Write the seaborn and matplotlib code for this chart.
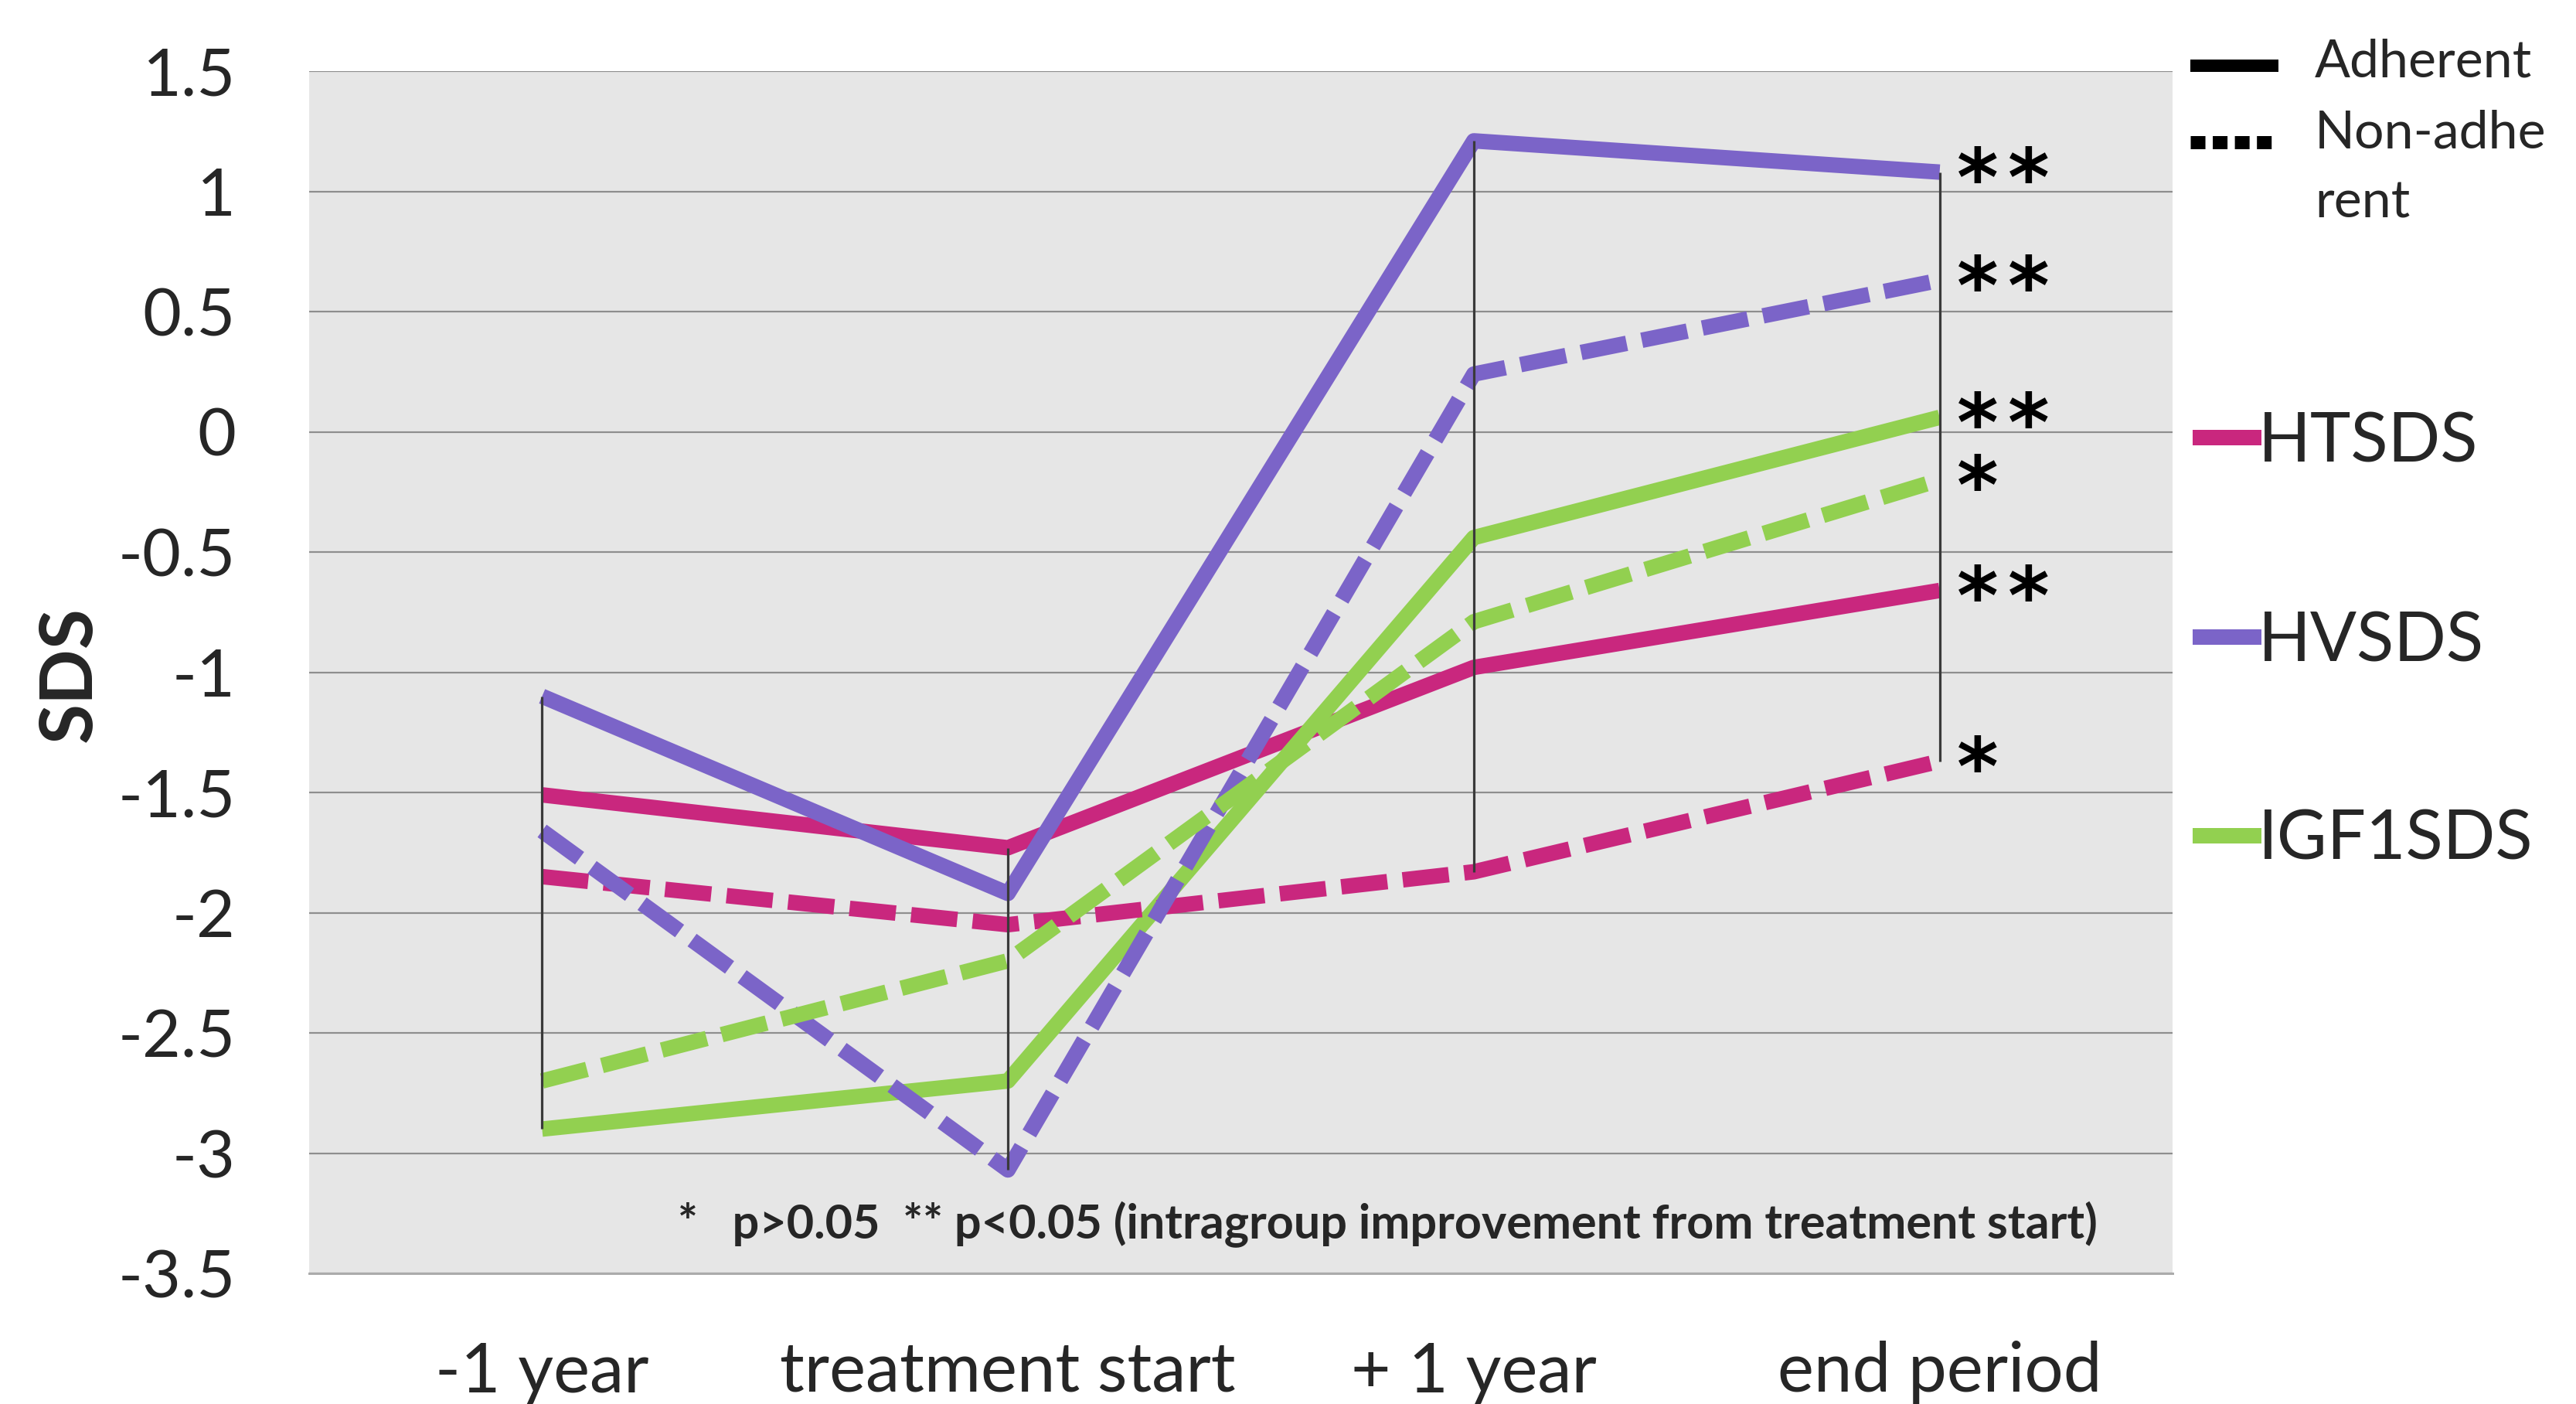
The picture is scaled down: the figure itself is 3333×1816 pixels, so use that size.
import numpy as np
import pandas as pd
import matplotlib
matplotlib.use("Agg")
import matplotlib.pyplot as plt
from matplotlib.lines import Line2D
import seaborn as sns

# ---- data -------------------------------------------------------------
timepoints = ["-1 year", "treatment start", "+ 1 year", "end period"]
measures = ["HTSDS", "HVSDS", "IGF1SDS"]

ht_adherent = [-1.51, -1.73, -0.98, -0.66]
ht_nonadherent = [-1.85, -2.05, -1.83, -1.37]
hv_adherent = [-1.10, -1.92, 1.21, 1.08]
hv_nonadherent = [-1.66, -3.07, 0.24, 0.63]
igf_adherent = [-2.90, -2.70, -0.44, 0.06]
igf_nonadherent = [-2.70, -2.20, -0.79, -0.20]

# significance of the change from treatment start, per measure
sig_adherent = ["**", "**", "**"]
sig_nonadherent = ["*", "**", "*"]

yticks = [1.5, 1, 0.5, 0, -0.5, -1, -1.5, -2, -2.5, -3, -3.5]
footnote = "*   p>0.05  ** p<0.05 (intragroup improvement from treatment start)"

colors = {"HTSDS": "#C9277E", "HVSDS": "#7B64C8", "IGF1SDS": "#92D050"}

# ---- long-form table --------------------------------------------------
adherent = [ht_adherent, hv_adherent, igf_adherent]
nonadherent = [ht_nonadherent, hv_nonadherent, igf_nonadherent]
rows = []
for m, a_vals, n_vals in zip(measures, adherent, nonadherent):
    for i, (va, vn) in enumerate(zip(a_vals, n_vals)):
        rows.append({"measure": m, "group": "Adherent", "t": i, "sds": va})
        rows.append({"measure": m, "group": "Non-adherent", "t": i, "sds": vn})
df = pd.DataFrame(rows)

# ---- figure -----------------------------------------------------------
sns.set_theme(style="white")
plt.rcParams["font.family"] = ["Lato", "DejaVu Sans"]

W, H, DPI = 3333, 1816, 100
fig = plt.figure(figsize=(W / DPI, H / DPI), dpi=DPI)


def fx(px):
    return px / W


def fy(py):
    return 1 - py / H


PX = 72 / DPI  # points per pixel

ax_l, ax_r, ax_t, ax_b = 400, 2811, 92, 1647
ax = fig.add_axes([fx(ax_l), fy(ax_b), (ax_r - ax_l) / W, (ax_b - ax_t) / H])
ax.set_facecolor("#E6E6E6")

LW = 20 * PX
styles = [("Adherent", "-"), ("Non-adherent", (0, (3.0, 1.0)))]
for group, ls in styles:
    sns.lineplot(
        data=df[df["group"] == group], x="t", y="sds",
        hue="measure", hue_order=measures, palette=colors,
        linewidth=LW, linestyle=ls, legend=False, errorbar=None,
        sort=False, ax=ax, zorder=3,
        solid_capstyle="butt", dash_capstyle="butt",
        solid_joinstyle="round", dash_joinstyle="round",
    )

# high-low lines across all series at each time point
all_series = np.array(adherent + nonadherent)
x_idx = np.arange(len(timepoints))
ax.vlines(x_idx, all_series.min(axis=0), all_series.max(axis=0),
          colors="#3A3A3A", linewidth=3.2 * PX, zorder=6)

# significance marks at the end of each line (stars spaced apart)
STAR_STEP = 66
for vals, lab in zip(adherent + nonadherent, sig_adherent + sig_nonadherent):
    for k, ch in enumerate(lab):
        ax.annotate(ch, xy=(x_idx[-1], vals[-1]),
                    xytext=(22 + k * STAR_STEP, -43),
                    textcoords="offset pixels", ha="left", va="baseline",
                    fontsize=74, fontweight="bold", family="DejaVu Sans",
                    color="black", zorder=7)

# axes styling
ax.set_xlim(-0.5, 3.5)
ax.set_ylim(-3.5, 1.5)
ax.set_yticks(yticks)
ax.set_yticklabels([f"{v:g}" for v in yticks], fontsize=62)
ax.set_xticks(x_idx)
ax.set_xticklabels(timepoints, fontsize=64)
ax.tick_params(axis="y", length=0, pad=95 * PX)
ax.tick_params(axis="x", length=0, pad=87 * PX)
ax.yaxis.grid(True, color="#8E8E8E", linewidth=2.2 * PX)
ax.xaxis.grid(False)
for side in ["top", "right", "left"]:
    ax.spines[side].set_visible(False)
ax.spines["bottom"].set_color("#ABABAB")
ax.spines["bottom"].set_linewidth(3 * PX)
ax.set_xlabel("")
ax.set_ylabel("SDS", fontsize=68, fontweight="bold", va="center")
ax.yaxis.set_label_coords((91 - ax_l) / (ax_r - ax_l), (ax_b - 872) / (ax_b - ax_t))

# footnote inside the plot area
fig.text(fx(877), fy(1602), footnote, fontsize=44, fontweight="bold",
         ha="left", va="baseline")

# ---- legend -----------------------------------------------------------
fig.add_artist(Line2D([fx(2834), fx(2948)], [fy(85), fy(85)], color="black",
                      lw=16 * PX, solid_capstyle="butt"))
fig.add_artist(Line2D([fx(2834), fx(2943)], [fy(184), fy(184)], color="black",
                      lw=17 * PX, linestyle=(0, (1.12, 0.56)),
                      dash_capstyle="butt"))
fig.text(fx(2995), fy(99), "Adherent", fontsize=49, ha="left", va="baseline")
fig.text(fx(2995), fy(192), "Non-adhe", fontsize=49, ha="left", va="baseline")
fig.text(fx(2995), fy(282), "rent", fontsize=49, ha="left", va="baseline")

for m, yc, yb in zip(measures, [566, 824, 1081], [597, 855, 1112]):
    fig.add_artist(Line2D([fx(2837), fx(2926)], [fy(yc), fy(yc)],
                          color=colors[m], lw=20 * PX, solid_capstyle="butt"))
    fig.text(fx(2922), fy(yb), m, fontsize=64, ha="left", va="baseline")

fig.savefig("out.png", dpi=DPI, facecolor="white")
